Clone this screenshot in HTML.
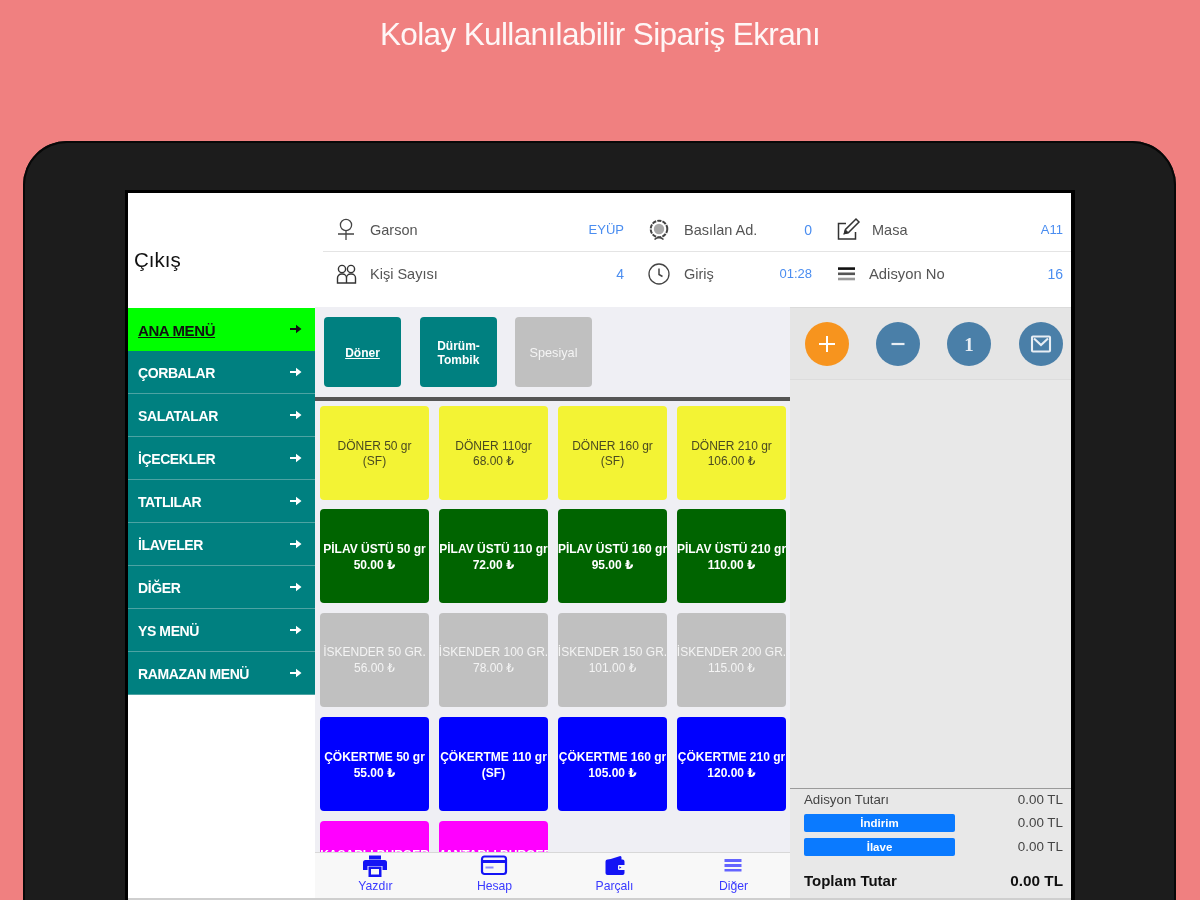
<!DOCTYPE html>
<html lang="tr">
<head>
<meta charset="utf-8">
<title>Kolay Kullanılabilir Sipariş Ekranı</title>
<style>
*{box-sizing:border-box;margin:0;padding:0}
html,body{width:1200px;height:900px;overflow:hidden}
body{background:#f08080;font-family:"Liberation Sans","DejaVu Sans",sans-serif;position:relative}
.abs{position:absolute}
#title{left:0;top:14px;width:1200px;text-align:center;color:rgba(255,255,255,.93);font-size:31.5px;line-height:40px;letter-spacing:-0.63px}
#tablet{left:23px;top:141px;width:1153px;height:820px;border-radius:44px;background:#1c1c1c;box-shadow:inset 0 0 0 2px #080808}
#bezel{left:125px;top:190px;width:950px;height:720px;background:#000}
#screen{left:128px;top:192px;width:943px;height:708px;background:#fff;overflow:hidden;box-shadow:inset 0 1px 0 #000}
/* coordinates inside #screen are relative to (128,192) */
#exit{left:6px;top:56px;font-size:20.5px;line-height:24px;color:#111}
.hline{left:195px;top:59px;width:749px;height:1px;background:#e4e4e4}
.hl{font-size:14.5px;line-height:16px;color:#555;white-space:nowrap}
.hv{font-size:13px;line-height:16px;color:#4a8df0;white-space:nowrap;text-align:right}
.ico{width:24px;height:24px}
#side{left:0;top:116px;width:187px}
.mi{height:43px;background:#008080;border-bottom:1px solid #4da3a3;color:#fff;font-weight:bold;font-size:14px;line-height:45px;padding-left:10px;position:relative;letter-spacing:-0.4px}
.mi.sel{background:#00ff00;color:#111;border-bottom-color:#00ff00;font-size:15px}
.mi.sel span{text-decoration:underline}
.mi i{position:absolute;right:13px;top:16px;line-height:0;font-style:normal}
#center{left:187px;top:115px;width:475px;height:593px;background:#efeff4;overflow:hidden}
.tab{top:10px;width:77px;height:70px;border-radius:4px;background:#008080;color:#fff;font-weight:bold;font-size:12px;line-height:14px;display:flex;align-items:center;justify-content:center;text-align:center;padding-top:2px}
#bar{left:0;top:90px;width:475px;height:4px;background:#555}
.t{width:109px;height:94px;border-radius:4px;color:#fff;font-weight:bold;font-size:12px;line-height:15px;display:flex;align-items:center;justify-content:center;text-align:center;white-space:nowrap;overflow:hidden}
.y{background:#f3f334;color:#4a4a20;font-weight:normal;padding-top:1px}
.g{background:#006400;line-height:16px;padding-top:2px}
.s{background:#c0c0c0;font-weight:normal;color:#f4f4f4;line-height:15.5px;padding-top:1px}
.b{background:#0000ff;line-height:16px;padding-top:2px}
.m{background:#ff00ff;padding-top:5px}
#tool{left:0;top:545px;width:475px;height:46px;background:#f8f8f8;border-top:1px solid #d8d8d8}
.tl{top:26px;width:119px;text-align:center;font-size:12.2px;line-height:14px;color:#3a3aff}
#right{left:662px;top:115px;width:281px;height:593px;background:#e8e8e8}
#rtop{left:0;top:0;width:281px;height:73px;background:#e5e5e5;border-bottom:1px solid #dcdcdc;border-top:1px solid #dbdbdb}
.c{top:15px;width:44px;height:44px;border-radius:50%;background:#4a7fa8;color:#fff;text-align:center}
#rline{left:0;top:481px;width:281px;height:1px;background:#9a9a9a}
.rl{left:14px;font-size:13.3px;line-height:14px;color:#444}
.rv{right:8px;font-size:13.4px;line-height:14px;color:#444;text-align:right}
.btn{left:14px;width:151px;height:18px;border-radius:2px;background:#0a7aff;color:#fff;font-weight:bold;font-size:11.5px;line-height:18px;text-align:center}
#bot{left:0;top:706px;width:944px;height:2px;background:#cfcfcf}
#hfix{left:0;top:115px;width:944px;height:1px;background:#fff}
</style>
</head>
<body>
<div id="title" class="abs">Kolay Kullanılabilir Sipariş Ekranı</div>
<div id="tablet" class="abs"></div>
<div id="bezel" class="abs"></div>
<div id="screen" class="abs">
  <div id="exit" class="abs">Çıkış</div>
  <div class="hline abs"></div>

  <!-- header info rows -->
  <svg class="abs" style="left:205px;top:24px" width="26" height="28" viewBox="0 0 26 28" fill="none" stroke="#444" stroke-width="1.3"><circle cx="13" cy="9" r="5.6"/><path d="M5 18h16M13 15v9"/></svg>
  <div class="hl abs" style="left:242px;top:30px">Garson</div>
  <div class="hv abs" style="left:396px;width:100px;top:30px">EYÜP</div>
  <svg class="abs" style="left:205px;top:69px" width="26" height="28" viewBox="0 0 26 28" fill="none" stroke="#333" stroke-width="1.4"><circle cx="9" cy="8" r="3.6"/><circle cx="18" cy="8" r="3.6"/><path d="M4.500 22v-5a4 4 0 0 1 4-4h1a4 4 0 0 1 4 4v5zM13.500 22v-5a4 4 0 0 1 4-4h1a4 4 0 0 1 4 4v5z"/></svg>
  <div class="hl abs" style="left:242px;top:74px">Kişi Sayısı</div>
  <div class="hv abs" style="left:396px;width:100px;top:74px;font-size:14px">4</div>

  <svg class="abs" style="left:518px;top:24px" width="26" height="28" viewBox="0 0 26 28" fill="none" stroke="#444" stroke-width="1.6"><circle cx="13" cy="13" r="8.300" stroke-width="2" stroke-dasharray="4.200 1.100"/><circle cx="13" cy="13" r="5.200" fill="#a8a8a8" stroke="none"/><path d="M8.500 23.500q4.500-4 9 0"/></svg>
  <div class="hl abs" style="left:556px;top:30px">Basılan Ad.</div>
  <div class="hv abs" style="left:584px;width:100px;top:30px;font-size:14px">0</div>
  <svg class="abs" style="left:518px;top:68px" width="26" height="28" viewBox="0 0 26 28" fill="none" stroke="#444" stroke-width="1.300"><circle cx="13" cy="14" r="10"/><path d="M13 8.500v6l3.500 2" stroke-width="1.500"/></svg>
  <div class="hl abs" style="left:556px;top:74px">Giriş</div>
  <div class="hv abs" style="left:584px;width:100px;top:74px">01:28</div>

  <svg class="abs" style="left:706px;top:24px" width="28" height="28" viewBox="0 0 28 28" fill="none" stroke="#333" stroke-width="1.500"><path d="M12 7.500H4.500v15.500h17V16"/><path d="M10.500 17.500l1-4L22 3l3 3-10.500 10.500z"/><path d="M10.500 17.500l1-3 2.200 2.200z" fill="#111"/></svg>
  <div class="hl abs" style="left:744px;top:30px">Masa</div>
  <div class="hv abs" style="left:835px;width:100px;top:30px">A11</div>
  <svg class="abs" style="left:706px;top:68px" width="28" height="28" viewBox="0 0 28 28"><rect x="4" y="7.300" width="17" height="2.600" fill="#111"/><rect x="4" y="12.500" width="17" height="2.600" fill="#555"/><rect x="4" y="17.700" width="17" height="2.600" fill="#999"/></svg>
  <div class="hl abs" style="left:741px;top:74px;font-size:14.8px">Adisyon No</div>
  <div class="hv abs" style="left:835px;width:100px;top:74px;font-size:14px">16</div>

  <div id="side" class="abs">
    <div class="mi sel"><span>ANA MENÜ</span><i><svg width="12" height="10" viewBox="0 0 12 10" fill="currentColor"><path d="M0 4h6V0.800L11.500 5 6 9.200V6H0z"/></svg></i></div>
    <div class="mi">ÇORBALAR<i><svg width="12" height="10" viewBox="0 0 12 10" fill="currentColor"><path d="M0 4h6V0.800L11.500 5 6 9.200V6H0z"/></svg></i></div>
    <div class="mi">SALATALAR<i><svg width="12" height="10" viewBox="0 0 12 10" fill="currentColor"><path d="M0 4h6V0.800L11.500 5 6 9.200V6H0z"/></svg></i></div>
    <div class="mi">İÇECEKLER<i><svg width="12" height="10" viewBox="0 0 12 10" fill="currentColor"><path d="M0 4h6V0.800L11.500 5 6 9.200V6H0z"/></svg></i></div>
    <div class="mi">TATLILAR<i><svg width="12" height="10" viewBox="0 0 12 10" fill="currentColor"><path d="M0 4h6V0.800L11.500 5 6 9.200V6H0z"/></svg></i></div>
    <div class="mi">İLAVELER<i><svg width="12" height="10" viewBox="0 0 12 10" fill="currentColor"><path d="M0 4h6V0.800L11.500 5 6 9.200V6H0z"/></svg></i></div>
    <div class="mi">DİĞER<i><svg width="12" height="10" viewBox="0 0 12 10" fill="currentColor"><path d="M0 4h6V0.800L11.500 5 6 9.200V6H0z"/></svg></i></div>
    <div class="mi">YS MENÜ<i><svg width="12" height="10" viewBox="0 0 12 10" fill="currentColor"><path d="M0 4h6V0.800L11.500 5 6 9.200V6H0z"/></svg></i></div>
    <div class="mi">RAMAZAN MENÜ<i><svg width="12" height="10" viewBox="0 0 12 10" fill="currentColor"><path d="M0 4h6V0.800L11.500 5 6 9.200V6H0z"/></svg></i></div>
  </div>

  <div id="center" class="abs">
    <div class="tab abs" style="left:9px;text-decoration:underline">Döner</div>
    <div class="tab abs" style="left:105px">Dürüm-<br>Tombik</div>
    <div class="tab abs" style="left:200px;background:#c0c0c0;font-weight:normal;color:#f4f4f4;font-size:12.7px">Spesiyal</div>
    <div id="bar" class="abs"></div>
    <div class="t y abs" style="left:5px;top:99px"><span>DÖNER 50 gr<br>(SF)</span></div>
    <div class="t y abs" style="left:124px;top:99px"><span>DÖNER 110gr<br>68.00 ₺</span></div>
    <div class="t y abs" style="left:243px;top:99px"><span>DÖNER 160 gr<br>(SF)</span></div>
    <div class="t y abs" style="left:362px;top:99px"><span>DÖNER 210 gr<br>106.00 ₺</span></div>
    <div class="t g abs" style="left:5px;top:202px"><span>PİLAV ÜSTÜ 50 gr<br>50.00 ₺</span></div>
    <div class="t g abs" style="left:124px;top:202px"><span>PİLAV ÜSTÜ 110 gr<br>72.00 ₺</span></div>
    <div class="t g abs" style="left:243px;top:202px"><span>PİLAV ÜSTÜ 160 gr<br>95.00 ₺</span></div>
    <div class="t g abs" style="left:362px;top:202px"><span>PİLAV ÜSTÜ 210 gr<br>110.00 ₺</span></div>
    <div class="t s abs" style="left:5px;top:306px"><span>İSKENDER 50 GR.<br>56.00 ₺</span></div>
    <div class="t s abs" style="left:124px;top:306px"><span>İSKENDER 100 GR.<br>78.00 ₺</span></div>
    <div class="t s abs" style="left:243px;top:306px"><span>İSKENDER 150 GR.<br>101.00 ₺</span></div>
    <div class="t s abs" style="left:362px;top:306px"><span>İSKENDER 200 GR.<br>115.00 ₺</span></div>
    <div class="t b abs" style="left:5px;top:410px"><span>ÇÖKERTME 50 gr<br>55.00 ₺</span></div>
    <div class="t b abs" style="left:124px;top:410px"><span>ÇÖKERTME 110 gr<br>(SF)</span></div>
    <div class="t b abs" style="left:243px;top:410px"><span>ÇÖKERTME 160 gr<br>105.00 ₺</span></div>
    <div class="t b abs" style="left:362px;top:410px"><span>ÇÖKERTME 210 gr<br>120.00 ₺</span></div>
    <div class="t m abs" style="left:5px;top:514px"><span>KAŞARLI BURGER<br>MENÜ<br>85.00 ₺</span></div>
    <div class="t m abs" style="left:124px;top:514px"><span>MANTARLI BURGER<br>MENÜ<br>95.00 ₺</span></div>
    <div id="tool" class="abs">
      <svg class="abs" style="left:47px;top:1px" width="26" height="24" viewBox="0 0 26 24" fill="#1414f5"><path d="M7 1.500h12v4H7z"/><path d="M3.500 6h19a2.500 2.500 0 0 1 2.500 2.500V16h-4.500v-4h-15v4H1V8.500A2.500 2.500 0 0 1 3.500 6z"/><path d="M6.500 12.500h13V23h-13zM9 15v5.500h8V15z" fill-rule="evenodd"/></svg>
      <div class="tl abs" style="left:1px">Yazdır</div>
      <svg class="abs" style="left:165px;top:2px" width="28" height="22" viewBox="0 0 28 22" fill="none" stroke="#1414f5"><rect x="2" y="1.500" width="24" height="17.500" rx="2.500" stroke-width="2.200"/><path d="M2 6.500h24" stroke-width="3"/><path d="M5.500 12.500h8" stroke-width="2" stroke="#8a8aff"/></svg>
      <div class="tl abs" style="left:120px">Hesap</div>
      <svg class="abs" style="left:289px;top:2px" width="22" height="22" viewBox="0 0 22 22" fill="#1414f5"><path d="M2 5.500L15.500 1.200a1.500 1.500 0 0 1 2 1.400V5H4.500z"/><path d="M3.500 4.500h15a2 2 0 0 1 2 2V18a2 2 0 0 1-2 2h-15a2 2 0 0 1-2-2V6.500a2 2 0 0 1 2-2zM15 10a1 1 0 0 0-1 1v3a1 1 0 0 0 1 1h5.500v-5zM15.300 11.300l2.200 1.200-2.200 1.200z" fill-rule="evenodd"/></svg>
      <div class="tl abs" style="left:240px">Parçalı</div>
      <svg class="abs" style="left:408px;top:5px" width="20" height="16" viewBox="0 0 20 16" fill="#6464ff"><rect x="1.500" y="1" width="17" height="3"/><rect x="1.500" y="6" width="17" height="3"/><rect x="1.500" y="11" width="17" height="2.500"/></svg>
      <div class="tl abs" style="left:359px">Diğer</div>
    </div>
  </div>

  <div id="right" class="abs">
    <div id="rtop" class="abs"></div>
    <div class="c abs" style="left:15px;background:#f7941e"><svg width="44" height="44" viewBox="0 0 44 44" stroke="#fff" stroke-width="2" fill="none"><path d="M14 22h16M22 14v16"/></svg></div>
    <div class="c abs" style="left:86px"><svg width="44" height="44" viewBox="0 0 44 44" stroke="#e8eef4" stroke-width="2.200" fill="none"><path d="M15.500 22h13"/></svg></div>
    <div class="c abs" style="left:157px;font-family:'Liberation Serif',serif;font-weight:bold;font-size:19px;line-height:45px;color:#e8eef4">1</div>
    <div class="c abs" style="left:229px"><svg width="44" height="44" viewBox="0 0 44 44" stroke="#e8eef4" stroke-width="2.100" fill="none"><rect x="13" y="14.500" width="18" height="15" rx="1"/><path d="M15 16.500l7 6.500 7-6.500"/></svg></div>
    <div id="rline" class="abs"></div>
    <div class="rl abs" style="top:486px">Adisyon Tutarı</div><div class="rv abs" style="top:486px">0.00 TL</div>
    <div class="btn abs" style="top:507px">İndirim</div><div class="rv abs" style="top:509px">0.00 TL</div>
    <div class="btn abs" style="top:531px">İlave</div><div class="rv abs" style="top:533px">0.00 TL</div>
    <div class="rl abs" style="top:566px;font-weight:bold;font-size:15px;line-height:16px;color:#111">Toplam Tutar</div><div class="rv abs" style="top:566px;font-weight:bold;font-size:15.3px;line-height:16px;color:#111">0.00 TL</div>
  </div>
  <div id="bot" class="abs"></div>
</div>
</body>
</html>
